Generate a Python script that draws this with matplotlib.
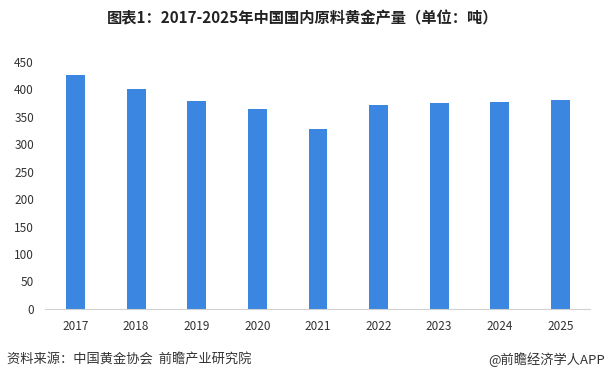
import matplotlib
matplotlib.use('Agg')
import matplotlib.pyplot as plt

plt.rcParams['font.family'] = ['Noto Sans CJK SC', 'DejaVu Sans']

years = ['2017', '2018', '2019', '2020', '2021', '2022', '2023', '2024', '2025']
output = [426, 401, 379, 364, 328, 372, 375, 377, 381]
yticks = [0, 50, 100, 150, 200, 250, 300, 350, 400, 450]

fig = plt.figure(figsize=(6.06, 3.80), dpi=100)
ax = fig.add_axes([0.0743, 0.187, 0.899, 0.650])

x = range(len(years))
ax.bar(x, output, width=0.31, color='#3a86e0')

ax.set_xlim(-0.503, len(years) - 0.513)
ax.set_ylim(0, 450)
ax.set_yticks(yticks)
ax.set_xticks(list(x))
ax.set_xticklabels(years)
ax.tick_params(axis='both', length=0, labelsize=8.5, colors='#333333')
ax.tick_params(axis='x', pad=8)
ax.tick_params(axis='y', pad=8)

for side in ['top', 'right', 'left']:
    ax.spines[side].set_visible(False)
ax.spines['bottom'].set_color('#d0d0d0')

fig.text(0.5, 0.952, '图表1：2017-2025年中国国内原料黄金产量（单位：吨）',
         ha='center', va='center', fontsize=11, fontweight='bold', color='#222222')
fig.text(0.011, 0.053, '资料来源：中国黄金协会  前瞻产业研究院',
         ha='left', va='center', fontsize=9.5, color='#333333')
fig.text(0.998, 0.053, '@前瞻经济学人APP',
         ha='right', va='center', fontsize=9.5, color='#333333')

fig.savefig('out.png', dpi=100, facecolor='white')
